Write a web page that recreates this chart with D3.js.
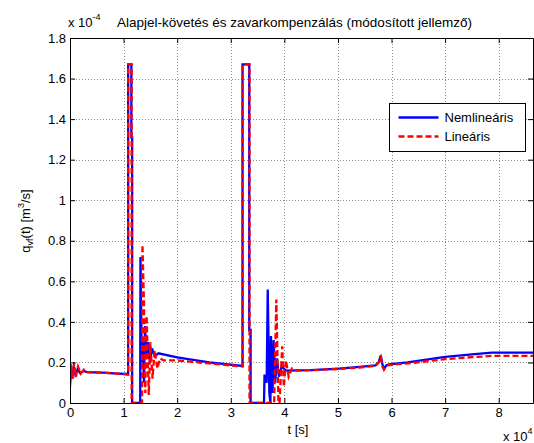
<!DOCTYPE html>
<html>
<head>
<meta charset="utf-8">
<script src="https://cdn.jsdelivr.net/npm/d3@7"></script>
<style>
    body { margin: 0; background: #fff; }
    text { font-family: "Liberation Sans", Arial, sans-serif; fill: #000; }
</style>
</head>
<body>
<svg id="chart" width="534" height="443"></svg>
<script>
// flow values are in units of 1e-4 m^3/s, time in seconds
var nonlinTime = [0, 150, 400, 700, 1000, 1400, 1900, 2500, 3200, 6000, 9000, 10850,
    10850, 11450, 11450, 11600, 11600,
    13100, 13150, 13400, 13600, 13800, 14000, 14300, 14600, 14900, 15300, 15800, 16500, 20000, 26000, 32200,
    32200, 33450, 33450, 33700, 33700,
    36200, 36300, 36700, 36900, 37200, 37400, 37500, 37800, 38000, 38300, 38600, 39000, 39500, 40300,
    45000, 50200, 54000, 57000, 57600, 58000, 58300, 58600, 59000, 59500, 63000, 70000, 75000, 78700, 86400];
var nonlinFlow = [0.08, 0.17, 0.12, 0.18, 0.14, 0.165, 0.148, 0.158, 0.152, 0.15, 0.145, 0.143,
    1.67, 1.67, 1.31, 1.31, 0,
    0, 0.72, 0.2, 0.3, 0.1, 0.38, 0.22, 0.3, 0.2, 0.27, 0.23, 0.245, 0.225, 0.2, 0.183,
    1.67, 1.67, 0.36, 0.36, 0,
    0, 0.14, 0.1, 0.56, 0.05, 0, 0.33, 0.05, 0.31, 0.1, 0.22, 0.13, 0.18, 0.16,
    0.162, 0.17, 0.178, 0.186, 0.2, 0.235, 0.19, 0.167, 0.185, 0.19, 0.2, 0.227, 0.24, 0.248, 0.248];

var linTime = [0, 200, 500, 800, 1100, 1500, 2000, 2600, 3200, 6000, 9000, 10850,
    10850, 11500, 11500,
    13450, 13520, 13800, 14050, 14300, 14700, 15000, 15400, 15800, 16300, 16800, 17500, 20000, 26000, 32200,
    32200, 33500, 33500,
    38100, 38500, 38900, 39100, 39600, 39900, 40300, 40800, 41400, 42500,
    45000, 50200, 54000, 57000, 57600, 58000, 58300, 58600, 59000, 59500, 63000, 70000, 75000, 78700, 86400];
var linFlow = [0.1, 0.19, 0.12, 0.2, 0.13, 0.18, 0.145, 0.165, 0.152, 0.15, 0.145, 0.14,
    1.67, 1.67, 0,
    0, 0.78, 0.5, 0.05, 0.43, 0.04, 0.3, 0.12, 0.26, 0.17, 0.22, 0.21, 0.21, 0.195, 0.18,
    1.67, 1.67, 0,
    0, 0.51, 0, 0, 0.28, 0.08, 0.21, 0.13, 0.17, 0.16,
    0.162, 0.168, 0.175, 0.183, 0.2, 0.225, 0.18, 0.165, 0.18, 0.187, 0.195, 0.216, 0.226, 0.232, 0.232];

var xTicks = [0, 10000, 20000, 30000, 40000, 50000, 60000, 70000, 80000];
var yTicks = [0, 0.2, 0.4, 0.6, 0.8, 1, 1.2, 1.4, 1.6, 1.8];
var seriesNames = ["Nemlineáris", "Lineáris"];
var seriesColors = ["#0000ff", "#ff0000"];

var svg = d3.select("#chart");
var pLeft = 70, pRight = 533, pTop = 38, pBottom = 403;

var x = d3.scaleLinear().domain([0, 86400]).range([pLeft, pRight]);
var y = d3.scaleLinear().domain([0, 1.8]).range([pBottom, pTop]);

svg.append("defs").append("clipPath").attr("id", "plotclip")
    .append("rect")
    .attr("x", pLeft).attr("y", pTop - 1)
    .attr("width", pRight - pLeft).attr("height", pBottom - pTop + 2);

// grid
var grid = svg.append("g").attr("stroke", "#8c8c8c").attr("stroke-width", 1).attr("stroke-dasharray", "1,2");
grid.selectAll(".gx").data(xTicks.slice(1)).enter().append("line")
    .attr("x1", function (d) { return Math.round(x(d)) + 0.5; })
    .attr("x2", function (d) { return Math.round(x(d)) + 0.5; })
    .attr("y1", pTop).attr("y2", pBottom);
grid.selectAll(".gy").data(yTicks.slice(1, -1)).enter().append("line")
    .attr("y1", function (d) { return Math.round(y(d)) + 0.5; })
    .attr("y2", function (d) { return Math.round(y(d)) + 0.5; })
    .attr("x1", pLeft).attr("x2", pRight);

// lines
function points(ts, vs) {
    return ts.map(function (t, i) { return [t, vs[i]]; });
}
var line = d3.line()
    .x(function (d) { return x(d[0]); })
    .y(function (d) { return y(d[1]); });

var plot = svg.append("g").attr("clip-path", "url(#plotclip)");
plot.append("path")
    .datum(points(nonlinTime, nonlinFlow))
    .attr("fill", "none")
    .attr("stroke", seriesColors[0])
    .attr("stroke-width", 2.3)
    .attr("d", line);
plot.append("path")
    .datum(points(linTime, linFlow))
    .attr("fill", "none")
    .attr("stroke", seriesColors[1])
    .attr("stroke-width", 2.3)
    .attr("stroke-dasharray", "6,3")
    .attr("d", line);

// axes, MATLAB style ticks pointing inward
svg.append("g")
    .attr("transform", "translate(0," + pBottom + ")")
    .call(d3.axisBottom(x).tickValues(xTicks).tickSizeInner(-5).tickSizeOuter(0)
        .tickPadding(5).tickFormat(function (d) { return d / 10000; }));
svg.append("g")
    .attr("transform", "translate(" + pLeft + ",0)")
    .call(d3.axisLeft(y).tickValues(yTicks).tickSizeInner(-5).tickSizeOuter(0)
        .tickPadding(4).tickFormat(function (d) { return d; }));
svg.append("g")
    .attr("transform", "translate(0," + pTop + ")")
    .call(d3.axisTop(x).tickValues(xTicks).tickSizeInner(-5).tickSizeOuter(0).tickFormat(""));
svg.append("g")
    .attr("transform", "translate(" + pRight + ",0)")
    .call(d3.axisRight(y).tickValues(yTicks).tickSizeInner(-5).tickSizeOuter(0).tickFormat(""));

svg.selectAll(".domain").attr("stroke", "#000");
svg.selectAll(".tick line").attr("stroke", "#000");
svg.selectAll(".tick text").attr("font-size", "13px").attr("font-family", "Liberation Sans, Arial, sans-serif").attr("fill", "#000");

// titles and labels
svg.append("text")
    .attr("x", 117).attr("y", 27)
    .attr("font-size", "13.5px")
    .text("Alapjel-követés és zavarkompenzálás (módosított jellemző)");

var exp1 = svg.append("text").attr("x", 68).attr("y", 27).attr("font-size", "13px");
exp1.append("tspan").text("x 10");
exp1.append("tspan").attr("dy", -7).attr("font-size", "9px").text("-4");

var exp2 = svg.append("text").attr("x", 503).attr("y", 441).attr("font-size", "13px");
exp2.append("tspan").text("x 10");
exp2.append("tspan").attr("dy", -7).attr("font-size", "9px").text("4");

svg.append("text")
    .attr("x", 298).attr("y", 434)
    .attr("text-anchor", "middle")
    .attr("font-size", "13px")
    .text("t [s]");

var ylab = svg.append("text")
    .attr("transform", "translate(30,221) rotate(-90)")
    .attr("text-anchor", "middle")
    .attr("font-size", "13px");
ylab.append("tspan").text("q");
ylab.append("tspan").attr("dy", 3).attr("font-size", "9px").text("vf");
ylab.append("tspan").attr("dy", -3).text("(t) [m");
ylab.append("tspan").attr("dy", -6).attr("font-size", "9px").text("3");
ylab.append("tspan").attr("dy", 6).text("/s]");

// legend
var legend = svg.append("g").attr("transform", "translate(389.5,103.5)");
legend.append("rect")
    .attr("width", 136).attr("height", 48)
    .attr("fill", "#fff").attr("stroke", "#000").attr("stroke-width", 1);
seriesNames.forEach(function (name, i) {
    var ly = 14 + i * 19;
    legend.append("line")
        .attr("x1", 9).attr("x2", 49).attr("y1", ly).attr("y2", ly)
        .attr("stroke", seriesColors[i]).attr("stroke-width", 2.3)
        .attr("stroke-dasharray", i === 1 ? "6,3" : null);
    legend.append("text")
        .attr("x", 55).attr("y", ly + 4.5)
        .attr("font-size", "13px")
        .text(name);
});
</script>
</body>
</html>
